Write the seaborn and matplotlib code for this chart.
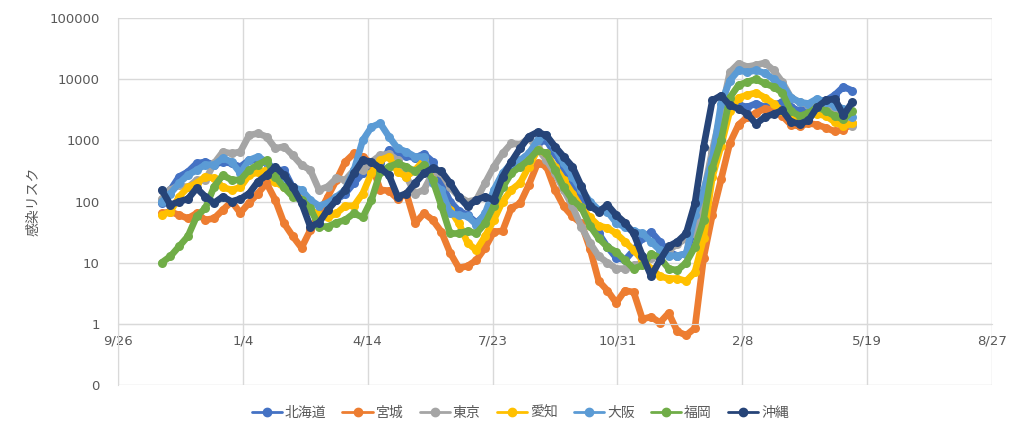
import pandas as pd
import matplotlib
matplotlib.use("Agg")
import matplotlib.pyplot as plt
from matplotlib.lines import Line2D
from matplotlib.ticker import FixedLocator, FuncFormatter, NullLocator
import seaborn as sns

# weekly readings, 2020-10-31 .. 2022-05-07
dates = pd.date_range("2020-10-31", periods=80, freq="7D")

hokkaido = [95, 155, 255, 305, 420, 445, 400, 445, 420, 370, 475, 475, 420, 327, 327, 170,
            120, 73, 60, 85, 106, 135, 200, 290, 370, 420,
            700, 600, 550, 520, 600, 450, 200, 100, 70, 60, 45, 60, 130, 250, 400, 450,
            600, 900, 1000, 600, 350, 200, 100,
            45, 30, 18, 12, 11, 16, 25, 32, 22, 15, 13, 14, 40, 120, 600, 1800,
            3500, 3800, 3500, 4000, 3500, 3800, 4200, 3500, 3000, 3500, 4500, 4500, 5500, 7500, 6500]
miyagi = [64, 68, 60, 53, 64, 50, 53, 73, 100, 65, 95, 135, 200, 106, 44, 27,
          17.5, 34, 64, 120, 225, 445, 610, 540, 420, 155,
          150, 110, 135, 44, 64, 50, 32, 14.5, 8.2, 8.8, 11, 17.5, 32, 33, 78, 93,
          186, 420, 380, 155, 83, 57, 44, 17,
          5, 3.5, 2.2, 3.5, 3.3, 1.2, 1.3, 1.05, 1.5, 0.75, 0.65, 0.85, 12, 60, 230,
          900, 1800, 2400, 2800, 3300, 3200, 2500, 1800, 1700, 1900, 1800, 1600, 1400, 1500, 1900]
tokyo = [110, 155, 186, 170, 224, 224, 420, 650, 610, 650, 1210, 1300, 1150, 740, 790, 570,
         395, 327, 155, 175, 240, 225, 327, 327, 445, 570,
         600, 475, 255, 135, 155, 290, 290, 170, 120, 100, 106, 200, 370, 610, 890, 850,
         1080, 740, 475, 290, 155, 83, 39, 21, 12.7,
         10, 8, 8, 9, 10, 12, 14, 16, 20, 25, 30, 140, 700, 2800,
         13000, 18000, 16000, 17000, 18500, 14000, 9000, 5000, 4200, 3800, 4200, 3500, 2800, 2500, 1700]
aichi = [60, 68, 120, 170, 200, 255, 240, 170, 155, 170, 270, 300, 327, 210, 170, 140,
         120, 73, 60, 55, 64, 85, 85, 135, 290, 475,
         540, 305, 255, 327, 475, 225, 120, 73, 44, 21, 16, 27, 50, 100, 155, 200,
         370, 690, 610, 370, 225, 135, 80, 55, 40, 37, 30,
         22, 16, 11, 8, 6, 5.5, 5.5, 5, 7, 25, 250, 800,
         3000, 5000, 5500, 6000, 5000, 4000, 3000, 2400, 2300, 2500, 2700, 2500, 2000, 1700, 1900]
osaka = [100, 135, 200, 270, 327, 400, 400, 510, 445, 290, 475, 540, 445, 327, 250, 170,
         155, 106, 85, 95, 120, 155, 327, 1000, 1650, 1900,
         1150, 740, 650, 540, 540, 200, 155, 64, 60, 57, 42, 64, 155, 290, 420, 475,
         610, 1000, 1210, 740, 420, 255, 155, 100, 73, 68, 45,
         38, 33, 30, 22, 16, 13, 13, 14, 60, 150, 500, 4000,
         9500, 14000, 13000, 14000, 12500, 10000, 8000, 5000, 4200, 4000, 4800, 4200, 3700, 3300, 2400]
fukuoka = [10, 12.7, 18.5, 27, 57, 78, 175, 270, 225, 225, 327, 400, 475, 255, 170, 120,
           106, 78, 39, 39, 45, 50, 64, 55, 106, 300,
           370, 420, 370, 310, 400, 225, 85, 30, 30, 33, 30, 44, 85, 170, 290, 370,
           475, 690, 620, 330, 170, 106, 80,
           40, 25, 18, 15, 11, 8, 9, 14, 12, 8, 7.5, 10, 18, 50, 350, 1000,
           5000, 8000, 9000, 10000, 8500, 7500, 6000, 3000, 2500, 2800, 3500, 3000, 2500, 2200, 3000]
okinawa = [155, 88, 100, 110, 165, 120, 95, 120, 100, 110, 135, 210, 270, 370, 270, 170,
           95, 39, 45, 73, 106, 155, 290, 475, 445, 350,
           270, 120, 135, 200, 290, 350, 310, 200, 120, 83, 106, 120, 106, 255, 445, 740,
           1150, 1360, 1210, 790, 540, 370, 180, 85, 68, 88, 60,
           45, 30, 13, 6, 11, 18.5, 22, 30, 93, 790, 4490, 5400,
           3720, 3300, 2700, 1860, 2400, 2700, 3090, 2000, 1860, 2120, 3500, 4490, 4800, 2560, 4200]

prefs = ["北海道", "宮城", "東京", "愛知", "大阪", "福岡", "沖縄"]
colors = ["#4472C4", "#ED7D31", "#A5A5A5", "#FFC000", "#5B9BD5", "#70AD47", "#264478"]

df = pd.DataFrame({"date": dates, "北海道": hokkaido, "宮城": miyagi, "東京": tokyo,
                   "愛知": aichi, "大阪": osaka, "福岡": fukuoka, "沖縄": okinawa})
df = df.melt("date", var_name="pref", value_name="risk")

sns.set_style("white")
plt.rcParams["font.family"] = ["DejaVu Sans", "Noto Sans CJK JP"]
txt = "#595959"
grid = "#d9d9d9"

fig, ax = plt.subplots(figsize=(10.24, 4.38), dpi=100)
fig.subplots_adjust(left=0.1152, right=0.9688, bottom=0.121, top=0.9589)

sns.lineplot(data=df, x="date", y="risk", hue="pref", hue_order=prefs, palette=colors,
             linewidth=4.8, marker="o", markersize=6.5, markeredgewidth=0,
             solid_capstyle="round", solid_joinstyle="round", legend=False, ax=ax)

ax.set_yscale("log")
ax.set_ylim(0.1, 100000)
ax.yaxis.set_major_locator(FixedLocator([0.1, 1, 10, 100, 1000, 10000, 100000]))
ax.yaxis.set_minor_locator(NullLocator())
ax.yaxis.set_major_formatter(FuncFormatter(lambda v, p: f"{v:.0f}"))

ticks = pd.date_range("2020-09-26", periods=8, freq="100D")
ax.set_xlim(ticks[0], ticks[-1])
ax.set_xticks(ticks)
ax.set_xticklabels([f"{d.month}/{d.day}" for d in ticks])

ax.set_axisbelow(True)
ax.grid(True, color=grid, lw=1)
for s in ["top", "right"]:
    ax.spines[s].set_visible(False)
ax.spines["left"].set_color(grid)
ax.spines["bottom"].set_color(grid)
ax.spines["bottom"].set_position(("data", 1))

ax.tick_params(axis="both", length=0, labelsize=9.5, colors=txt)
ax.tick_params(axis="y", pad=13)
ax.tick_params(axis="x", pad=8)
ax.set_xlabel("")
ax.set_ylabel("感染リスク", fontsize=10, color=txt, family=["Noto Sans CJK JP"])
ax.yaxis.set_label_coords(-0.089, 0.5)

handles = [Line2D([0], [0], color=c, lw=2, marker="o", markersize=6) for c in colors]
fig.legend(handles, prefs, loc="center", bbox_to_anchor=(0.508, 0.057), ncol=7,
           frameon=False, labelcolor=txt, handlelength=2.2,
           handletextpad=0.2, columnspacing=1.15,
           prop={"family": ["Noto Sans CJK JP"], "size": 10})

fig.savefig("out.png", dpi=100)
